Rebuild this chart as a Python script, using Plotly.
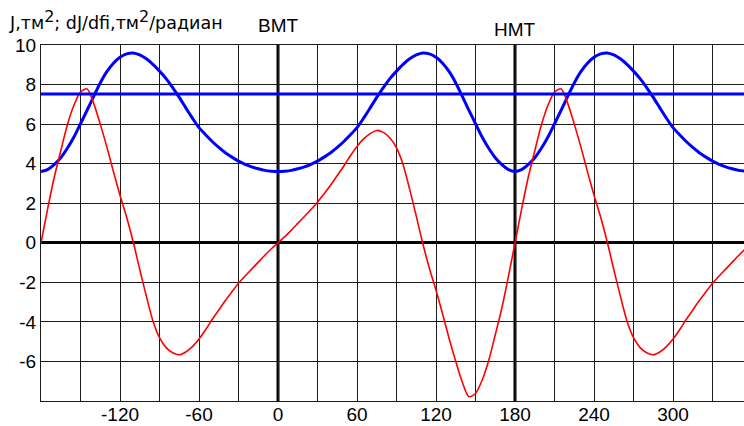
import plotly.graph_objects as go

# ---- data ----
angle_deg = list(range(-180, 360, 5))  # crank angle, degrees

J_values = [
    # -180 .. -5
    3.60, 3.70, 3.95, 4.30, 4.78, 5.35, 6.02, 6.70, 7.40, 8.08, 8.65, 9.08,
    9.38, 9.55, 9.60, 9.50, 9.30, 9.02, 8.68, 8.30, 7.85, 7.35, 6.82, 6.30,
    5.82, 5.46, 5.12, 4.82, 4.55, 4.33, 4.13, 3.97, 3.84, 3.74, 3.66, 3.62,
    # 0 .. 180
    3.60, 3.62, 3.66, 3.74, 3.84, 3.97, 4.13, 4.33, 4.55, 4.82, 5.12, 5.46,
    5.82, 6.30, 6.82, 7.35, 7.85, 8.30, 8.68, 9.02, 9.30, 9.50, 9.60, 9.55,
    9.38, 9.08, 8.65, 8.08, 7.40, 6.70, 6.02, 5.35, 4.78, 4.30, 3.95, 3.70,
    3.60,
    # 185 .. 355
    3.70, 3.95, 4.30, 4.78, 5.35, 6.02, 6.70, 7.40, 8.08, 8.65, 9.08, 9.38,
    9.55, 9.60, 9.50, 9.30, 9.02, 8.68, 8.30, 7.85, 7.35, 6.82, 6.30, 5.82,
    5.46, 5.12, 4.82, 4.55, 4.33, 4.13, 3.97, 3.84, 3.74, 3.66, 3.62,
]

dJ_values = [
    # -180 .. -5
    0.00, 1.70, 3.30, 4.65, 5.95, 6.95, 7.62, 7.78, 7.05, 6.00, 4.85, 3.60,
    2.40, 1.30, 0.05, -1.35, -2.70, -3.95, -4.80, -5.30, -5.56, -5.66, -5.52,
    -5.25, -4.87, -4.40, -3.88, -3.40, -2.92, -2.48, -2.05, -1.68, -1.33,
    -0.98, -0.63, -0.30,
    # 0 .. 180
    0.00, 0.30, 0.63, 0.98, 1.33, 1.68, 2.05, 2.48, 2.92, 3.40, 3.88, 4.40,
    4.87, 5.25, 5.52, 5.68, 5.58, 5.30, 4.80, 3.95, 2.70, 1.35, -0.05, -1.30,
    -2.40, -3.60, -4.85, -6.00, -7.05, -7.78, -7.62, -6.95, -5.95, -4.65,
    -3.30, -1.70, 0.00,
    # 185 .. 355
    1.70, 3.30, 4.65, 5.95, 6.95, 7.62, 7.78, 7.05, 6.00, 4.85, 3.60, 2.40,
    1.30, 0.05, -1.35, -2.70, -3.95, -4.80, -5.30, -5.56, -5.66, -5.52, -5.25,
    -4.87, -4.40, -3.88, -3.40, -2.92, -2.48, -2.05, -1.68, -1.33, -0.98,
    -0.63, -0.30,
]

J_mean = 7.52
dead_centres = [0, 180]
dead_centre_labels = ["ВМТ", "НМТ"]
x_tick_vals = [-120, -60, 0, 60, 120, 180, 240, 300]
y_tick_vals = [-6, -4, -2, 0, 2, 4, 6, 8, 10]
y_axis_title = ("J,тм<sup><span style='font-size:16px'>2</span></sup>; "
                "dJ/dfi,тм<sup><span style='font-size:16px'>2</span></sup>/радиан")

# ---- layout geometry (page pixels) ----
W, H = 744, 426
ML, MR, MT, MB = 41, 0, 45, 25
PW, PH = W - ML - MR, H - MT - MB


def paper_y(py):
    return (H - MB - py) / PH


def paper_x(px):
    return (px - ML) / PW


fig = go.Figure()

fig.add_trace(go.Scatter(
    x=angle_deg, y=J_values, mode="lines",
    line=dict(color="#0000FF", width=3, shape="spline", smoothing=0.8),
    hoverinfo="skip", showlegend=False,
))
fig.add_trace(go.Scatter(
    x=angle_deg, y=dJ_values, mode="lines",
    line=dict(color="#FF0000", width=1.6, shape="spline", smoothing=0.8),
    hoverinfo="skip", showlegend=False,
))

fig.add_hline(y=J_mean, line=dict(color="#0000FF", width=3), layer="above")

for xc in dead_centres:
    fig.add_vline(x=xc, line=dict(color="black", width=3), layer="below")

label_pix_bottom = [38, 42]
for xc, lab, pyb in zip(dead_centres, dead_centre_labels, label_pix_bottom):
    fig.add_annotation(
        x=xc, xref="x", y=paper_y(pyb), yref="paper",
        text=lab, showarrow=False, xanchor="center", yanchor="bottom",
        font=dict(family="Liberation Sans, Arial", size=19, color="black"),
    )

fig.add_annotation(
    x=paper_x(7), xref="paper", y=paper_y(35), yref="paper",
    text=y_axis_title, showarrow=False, xanchor="left", yanchor="bottom",
    font=dict(family="DejaVu Sans", size=17.5, color="black"),
)

fig.update_xaxes(
    range=[-180, 353.9], automargin=False,
    tickvals=x_tick_vals, ticktext=[str(v) for v in x_tick_vals],
    showgrid=True, gridcolor="#1a1a1a", gridwidth=1,
    minor=dict(tickmode="linear", tick0=0, dtick=30, showgrid=True,
               gridcolor="#1a1a1a", gridwidth=1),
    zeroline=False,
    showline=True, linecolor="#1a1a1a", linewidth=1, mirror=True,
    ticks="", ticklabelstandoff=-4,
    tickfont=dict(family="Liberation Sans, Arial", size=19, color="black"),
    fixedrange=True,
)
fig.update_yaxes(
    range=[-8, 10], automargin=False,
    tickvals=y_tick_vals, ticktext=[str(v) for v in y_tick_vals],
    showgrid=True, gridcolor="#1a1a1a", gridwidth=1,
    minor=dict(tickmode="linear", tick0=0, dtick=2, showgrid=True,
               gridcolor="#1a1a1a", gridwidth=1),
    zeroline=True, zerolinecolor="black", zerolinewidth=3,
    showline=True, linecolor="#1a1a1a", linewidth=1,
    ticks="", ticklabelstandoff=0,
    tickfont=dict(family="Liberation Sans, Arial", size=19, color="black"),
    fixedrange=True,
)

fig.update_layout(
    width=W, height=H,
    margin=dict(l=ML, r=MR, t=MT, b=MB),
    paper_bgcolor="white", plot_bgcolor="white",
    font=dict(family="Liberation Sans, Arial", color="black"),
    showlegend=False,
)

# remove the browser's default 8px page margin so the figure sits at (0, 0)
fig.write_html(
    "out.html",
    config={"displayModeBar": False},
    post_script="document.body.style.margin='0';document.body.style.overflow='hidden';",
)
